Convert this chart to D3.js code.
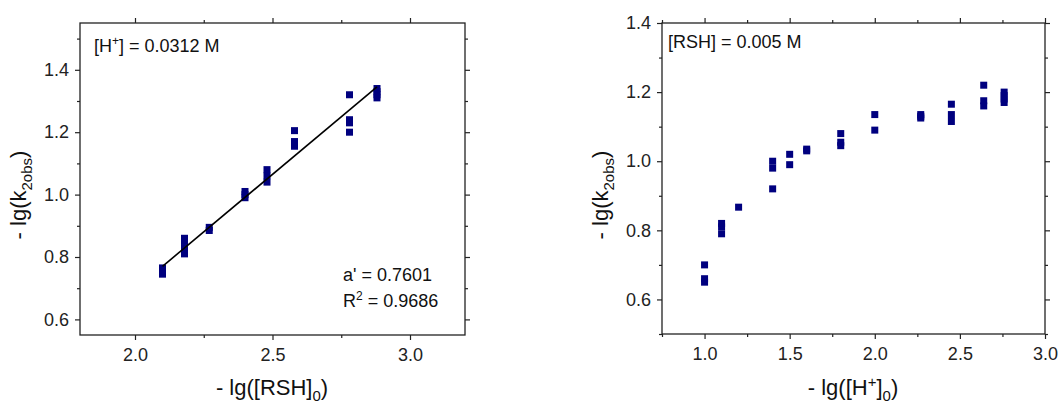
<!DOCTYPE html>
<html>
<head>
<meta charset="utf-8">
<script src="https://cdn.jsdelivr.net/npm/d3@7"></script>
<style>
  body { margin: 0; background: #fff; }
  svg { font-family: "Liberation Sans", Arial, sans-serif; }
  .axis path, .axis line { stroke: #222; stroke-width: 1.2; }
  .axis text { font-size: 18px; fill: #222; }
</style>
</head>
<body>
<div id="chart"></div>
<script>
// left panel: -lg([RSH]0) vs -lg(k2obs)
var rshLevels = [2.1, 2.18, 2.27, 2.4, 2.48, 2.58, 2.78, 2.88];
var rshK = [
  [0.745, 0.755, 0.765],
  [0.81, 0.83, 0.85, 0.86],
  [0.885, 0.895],
  [0.99, 1.0, 1.01],
  [1.04, 1.06, 1.08],
  [1.155, 1.17, 1.205],
  [1.2, 1.23, 1.24, 1.32],
  [1.31, 1.32, 1.33, 1.34]
];
var fitX = [2.1, 2.88];
var fitY = [0.77, 1.345];

// right panel: -lg([H+]0) vs -lg(k2obs)
var hLevels = [1.0, 1.1, 1.2, 1.4, 1.5, 1.6, 1.8, 2.0, 2.27, 2.45, 2.64, 2.76];
var hK = [
  [0.65, 0.66, 0.70],
  [0.79, 0.81, 0.82],
  [0.867],
  [0.92, 0.98, 1.0],
  [0.99, 1.02],
  [1.03, 1.035],
  [1.045, 1.055, 1.08],
  [1.09, 1.135],
  [1.125, 1.13, 1.135],
  [1.115, 1.135, 1.165],
  [1.16, 1.175, 1.22],
  [1.17, 1.18, 1.19, 1.2]
];

var leftXTicks = [2.0, 2.5, 3.0];
var leftXMinor = [2.25, 2.75];
var rightXTicks = [1.0, 1.5, 2.0, 2.5, 3.0];
var rightXMinor = [0.75, 1.25, 1.75, 2.25, 2.75];
var yTicks = [0.6, 0.8, 1.0, 1.2, 1.4];
var leftYMinor = [0.7, 0.9, 1.1, 1.3, 1.5];
var rightYMinor = [0.5, 0.7, 0.9, 1.1, 1.3];

var markColor = '#00007f';

var svg = d3.select('#chart').append('svg')
    .attr('width', 1060)
    .attr('height', 403);

function flatten(levels, vals) {
    var out = [];
    levels.forEach(function (x, i) {
        vals[i].forEach(function (y) { out.push({x: x, y: y}); });
    });
    return out;
}

function drawFrame(g, x, y, xt, xm, yt, ym) {
    var w = x.range()[1], h = y.range()[0];
    g.append('g').attr('class', 'axis').attr('transform', 'translate(0,' + h + ')')
        .call(d3.axisBottom(x).tickValues(xt).tickSize(5).tickPadding(8).tickFormat(d3.format('.1f')));
    g.append('g').attr('class', 'axis').attr('transform', 'translate(0,' + h + ')')
        .call(d3.axisBottom(x).tickValues(xm).tickSize(3).tickFormat(''));
    g.append('g').attr('class', 'axis')
        .call(d3.axisTop(x).tickValues(xt).tickSize(5).tickFormat(''));
    g.append('g').attr('class', 'axis')
        .call(d3.axisTop(x).tickValues(xm).tickSize(3).tickFormat(''));
    g.append('g').attr('class', 'axis')
        .call(d3.axisLeft(y).tickValues(yt).tickSize(5).tickPadding(6).tickFormat(d3.format('.1f')));
    g.append('g').attr('class', 'axis')
        .call(d3.axisLeft(y).tickValues(ym).tickSize(3).tickFormat(''));
    g.append('g').attr('class', 'axis').attr('transform', 'translate(' + w + ',0)')
        .call(d3.axisRight(y).tickValues(yt).tickSize(5).tickFormat(''));
    g.append('g').attr('class', 'axis').attr('transform', 'translate(' + w + ',0)')
        .call(d3.axisRight(y).tickValues(ym).tickSize(3).tickFormat(''));
    g.selectAll('.axis .domain').attr('d', null);
    g.append('rect')
        .attr('x', 0).attr('y', 0).attr('width', w).attr('height', h)
        .attr('fill', 'none').attr('stroke', '#222').attr('stroke-width', 1.3);
}

function drawPoints(g, x, y, data) {
    g.selectAll('rect.pt')
        .data(data)
        .enter()
        .append('rect')
        .attr('class', 'pt')
        .attr('x', function (d) { return x(d.x) - 3.5; })
        .attr('y', function (d) { return y(d.y) - 3.5; })
        .attr('width', 7)
        .attr('height', 7)
        .attr('fill', markColor);
}

function yTitle(g, cx, cy) {
    var t = g.append('text')
        .attr('transform', 'translate(' + cx + ',' + cy + ') rotate(-90)')
        .attr('text-anchor', 'middle')
        .style('font-size', '22px')
        .attr('fill', '#111');
    t.append('tspan').text('- lg(k');
    t.append('tspan').attr('dy', 6).style('font-size', '15px').text('2obs');
    t.append('tspan').attr('dy', -6).text(')');
}

// ---- left panel ----
var lx = d3.scaleLinear().domain([1.8, 3.2]).range([0, 385]);
var ly = d3.scaleLinear().domain([0.55, 1.55]).range([312, 0]);
var left = svg.append('g').attr('transform', 'translate(80,23)');

drawFrame(left, lx, ly, leftXTicks, leftXMinor, yTicks, leftYMinor);
drawPoints(left, lx, ly, flatten(rshLevels, rshK));

left.append('line')
    .attr('x1', lx(fitX[0])).attr('y1', ly(fitY[0]))
    .attr('x2', lx(fitX[1])).attr('y2', ly(fitY[1]))
    .attr('stroke', '#000').attr('stroke-width', 1.6);

var hl = left.append('text').attr('x', 14).attr('y', 29).style('font-size', '18px').attr('fill', '#111');
hl.append('tspan').text('[H');
hl.append('tspan').attr('dy', -7).style('font-size', '12px').text('+');
hl.append('tspan').attr('dy', 7).text('] = 0.0312 M');

left.append('text').attr('x', 263).attr('y', 258).style('font-size', '18px').attr('fill', '#111')
    .text("a' = 0.7601");
var r2 = left.append('text').attr('x', 263).attr('y', 284).style('font-size', '18px').attr('fill', '#111');
r2.append('tspan').text('R');
r2.append('tspan').attr('dy', -7).style('font-size', '12px').text('2');
r2.append('tspan').attr('dy', 7).text(' = 0.9686');

var lxt = left.append('text').attr('x', 192).attr('y', 372).attr('text-anchor', 'middle')
    .style('font-size', '22px').attr('fill', '#111');
lxt.append('tspan').text('- lg([RSH]');
lxt.append('tspan').attr('dy', 6).style('font-size', '15px').text('0');
lxt.append('tspan').attr('dy', -6).text(')');

yTitle(svg, 26, 195);

// ---- right panel ----
var rx = d3.scaleLinear().domain([0.75, 3.0]).range([0, 383]);
var ry = d3.scaleLinear().domain([0.5, 1.4]).range([311, 0]);
var right = svg.append('g').attr('transform', 'translate(662,23)');

drawFrame(right, rx, ry, rightXTicks, rightXMinor, yTicks, rightYMinor);
drawPoints(right, rx, ry, flatten(hLevels, hK));

right.append('text').attr('x', 6).attr('y', 25).style('font-size', '18px').attr('fill', '#111')
    .text('[RSH] = 0.005 M');

var rxt = right.append('text').attr('x', 191).attr('y', 372).attr('text-anchor', 'middle')
    .style('font-size', '22px').attr('fill', '#111');
rxt.append('tspan').text('- lg([H');
rxt.append('tspan').attr('dy', -8).style('font-size', '15px').text('+');
rxt.append('tspan').attr('dy', 8).text(']');
rxt.append('tspan').attr('dy', 6).style('font-size', '15px').text('0');
rxt.append('tspan').attr('dy', -6).text(')');

yTitle(svg, 608, 195);
</script>
</body>
</html>
